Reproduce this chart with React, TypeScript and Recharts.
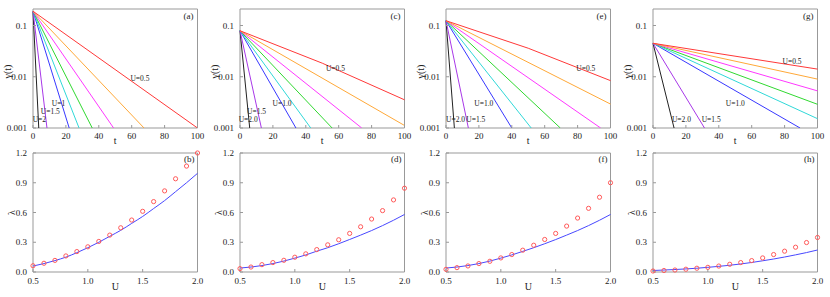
import * as React from "react";
import {
  LineChart,
  ComposedChart,
  Line,
  Scatter,
  XAxis,
  YAxis,
  ReferenceArea,
  ReferenceDot,
} from "recharts";

// gamma(t) curves, one per U value, steepest first: [t, gamma] pairs
const curveColors = ["#222222", "#a838e8", "#3838ff", "#30d8d8", "#30d830", "#ff38ff", "#ffa838", "#ff3838"];

const gammaA: [number, number][][] = [
  [[0, 0.19], [3.5, 0.001]],
  [[0, 0.19], [8.5, 0.001]],
  [[0, 0.19], [22, 0.001]],
  [[0, 0.19], [28, 0.001]],
  [[0, 0.19], [36, 0.001]],
  [[0, 0.19], [49, 0.001]],
  [[0, 0.19], [67.5, 0.001]],
  [[0, 0.19], [100, 0.001]],
];
const gammaC: [number, number][][] = [
  [[0, 0.079], [5.9, 0.001]],
  [[0, 0.079], [13, 0.001]],
  [[0, 0.079], [34, 0.001]],
  [[0, 0.079], [43, 0.001]],
  [[0, 0.079], [56, 0.001]],
  [[0, 0.079], [74, 0.001]],
  [[0, 0.079], [100, 0.00112]],
  [[0, 0.079], [50, 0.0184], [100, 0.00355]],
];
const gammaE: [number, number][][] = [
  [[0, 0.124], [5.1, 0.001]],
  [[0, 0.124], [13.6, 0.001]],
  [[0, 0.124], [40, 0.001]],
  [[0, 0.124], [51.8, 0.001]],
  [[0, 0.124], [69.5, 0.001]],
  [[0, 0.124], [94, 0.001]],
  [[0, 0.124], [100, 0.00293]],
  [[0, 0.124], [50, 0.036], [100, 0.0084]],
];
const gammaG: [number, number][][] = [
  [[0, 0.045], [12.8, 0.001]],
  [[0, 0.045], [31.3, 0.001]],
  [[0, 0.045], [89.4, 0.001]],
  [[0, 0.045], [100, 0.00152]],
  [[0, 0.045], [100, 0.0029]],
  [[0, 0.045], [100, 0.0053]],
  [[0, 0.045], [100, 0.009]],
  [[0, 0.045], [100, 0.0141]],
];

type Note = { text: string; t: number; g: number };
const notesA: Note[] = [
  { text: "U=0.5", t: 65, g: 0.0095 },
  { text: "U=1", t: 15.5, g: 0.003 },
  { text: "U=1.5", t: 10.5, g: 0.0021 },
  { text: "U=2", t: 3.9, g: 0.0015 },
];
const notesC: Note[] = [
  { text: "U=0.5", t: 58, g: 0.0147 },
  { text: "U=1.0", t: 25.6, g: 0.003 },
  { text: "U=1.5", t: 10.1, g: 0.0021 },
  { text: "U=2.0", t: 5, g: 0.00145 },
];
const notesE: Note[] = [
  { text: "U=0.5", t: 85, g: 0.0147 },
  { text: "U=1.0", t: 23, g: 0.003 },
  { text: "U=2.0", t: 5.8, g: 0.00145 },
  { text: "U=1.5", t: 18.1, g: 0.00145 },
];
const notesG: Note[] = [
  { text: "U=0.5", t: 84.5, g: 0.0197 },
  { text: "U=1.0", t: 50, g: 0.003 },
  { text: "U=2.0", t: 17.3, g: 0.00145 },
  { text: "U=1.5", t: 35.4, g: 0.00145 },
];

const tTicks = [0, 20, 40, 60, 80, 100];
const gTicks = [0.001, 0.01, 0.1];
const gDomain: [number, number] = [0.001, 0.21];

// lambda(U): blue line (fit) and red circles (simulation)
const uGrid = [0.5, 0.6, 0.7, 0.8, 0.9, 1.0, 1.1, 1.2, 1.3, 1.4, 1.5, 1.6, 1.7, 1.8, 1.9, 2.0];
const fitB = [0.06, 0.085, 0.115, 0.15, 0.195, 0.245, 0.3, 0.36, 0.42, 0.49, 0.56, 0.64, 0.72, 0.81, 0.9, 0.995];
const simB = [0.063, 0.088, 0.117, 0.162, 0.206, 0.254, 0.308, 0.372, 0.446, 0.524, 0.612, 0.71, 0.818, 0.94, 1.068, 1.2];
const fitD = [0.04, 0.05, 0.065, 0.085, 0.11, 0.14, 0.172, 0.21, 0.245, 0.285, 0.328, 0.372, 0.418, 0.468, 0.522, 0.58];
const simD = [0.034, 0.05, 0.074, 0.095, 0.118, 0.149, 0.183, 0.226, 0.274, 0.325, 0.389, 0.456, 0.534, 0.619, 0.727, 0.845];
const fitF = [0.04, 0.05, 0.065, 0.085, 0.11, 0.14, 0.172, 0.208, 0.245, 0.285, 0.327, 0.372, 0.418, 0.468, 0.522, 0.58];
const simF = [0.027, 0.044, 0.061, 0.085, 0.108, 0.142, 0.176, 0.22, 0.27, 0.328, 0.389, 0.463, 0.544, 0.642, 0.754, 0.9];
const fitH = [0.015, 0.02, 0.025, 0.031, 0.038, 0.047, 0.057, 0.068, 0.081, 0.096, 0.113, 0.131, 0.151, 0.173, 0.196, 0.222];
const simH = [0.01, 0.015, 0.02, 0.028, 0.038, 0.047, 0.06, 0.078, 0.095, 0.115, 0.142, 0.176, 0.21, 0.25, 0.297, 0.348];

const uTicks = [0.5, 1.0, 1.5, 2.0];
const lTicks = [0, 0.3, 0.6, 0.9, 1.2];

const COL_STEP = 206.6;
const FONT = "'Liberation Serif', 'DejaVu Serif', serif";
const FRAME = "#999";
const INK = "#222";
const tickStyle = { fontSize: 9, fill: INK, fontFamily: FONT };

function YTitle(props: any) {
  const vb = props.viewBox ?? {};
  const cx = (vb.x ?? 0) + props.dx0;
  const cy = (vb.y ?? 0) + (vb.height ?? 0) / 2 + props.dy0;
  return (
    <text
      x={cx}
      y={cy}
      transform={`rotate(-90 ${cx} ${cy})`}
      textAnchor="middle"
      dominantBaseline="central"
      fontSize={10}
      fontFamily={FONT}
      fill={INK}
    >
      {props.text}
    </text>
  );
}

function DecayPanel({ col, curves, notes, tag }: { col: number; curves: [number, number][][]; notes: Note[]; tag: string }) {
  return (
    <div style={{ position: "absolute", left: col * COL_STEP, top: 0 }}>
      <LineChart width={205} height={145} margin={{ top: 9, right: 7.5, bottom: 0, left: 0 }}>
        <XAxis
          type="number"
          dataKey="t"
          domain={[0, 100]}
          ticks={tTicks}
          height={17}
          axisLine={false}
          tickSize={-3}
          tickMargin={8}
          tickLine={{ stroke: FRAME }}
          tick={tickStyle}
          label={{ value: "t", position: "insideBottom", offset: 1, fontSize: 10, fill: INK, fontFamily: FONT }}
        />
        <YAxis
          type="number"
          scale="log"
          domain={gDomain}
          allowDataOverflow
          ticks={gTicks}
          width={33}
          axisLine={false}
          tickSize={-3}
          tickMargin={9}
          tickLine={{ stroke: FRAME }}
          tick={tickStyle}
          label={(p: any) => <YTitle {...p} text="γ(t)" dx0={7.5} dy0={3} />}
        />
        <ReferenceArea
          x1={0}
          x2={100}
          y1={gDomain[0]}
          y2={gDomain[1]}
          fill="none"
          stroke={FRAME}
          strokeWidth={1}
          ifOverflow="visible"
          label={{ value: tag, position: "insideTopRight", offset: 4, fontSize: 9, fill: INK, fontFamily: FONT }}
        />
        {curves.map((c, i) => (
          <Line
            key={i}
            data={c.map(([t, g]) => ({ t, g }))}
            dataKey="g"
            type="linear"
            stroke={curveColors[i]}
            strokeWidth={1}
            dot={false}
            isAnimationActive={false}
          />
        ))}
        {notes.map((n) => (
          <ReferenceDot
            key={n.text}
            x={n.t}
            y={n.g}
            r={0}
            fill="none"
            stroke="none"
            ifOverflow="visible"
            label={{ value: n.text, position: "center", fontSize: 7.5, fill: INK, fontFamily: FONT }}
          />
        ))}
      </LineChart>
    </div>
  );
}

function Ring(props: any) {
  if (props.cx == null || props.cy == null) return null;
  return <circle cx={props.cx} cy={props.cy} r={2.1} fill="none" stroke="#ff5a5a" strokeWidth={1} />;
}

function RatePanel({ col, fit, sim, tag }: { col: number; fit: number[]; sim: number[]; tag: string }) {
  const data = uGrid.map((u, i) => ({ u, fit: fit[i], sim: sim[i] }));
  return (
    <div style={{ position: "absolute", left: col * COL_STEP, top: 145 }}>
      <ComposedChart width={205} height={152} data={data} margin={{ top: 8, right: 7.5, bottom: 0, left: 0 }}>
        <XAxis
          type="number"
          dataKey="u"
          domain={[0.5, 2.0]}
          ticks={uTicks}
          height={25}
          axisLine={false}
          tickSize={-3}
          tickMargin={9}
          tickLine={{ stroke: FRAME }}
          tick={tickStyle}
          tickFormatter={(v: number) => v.toFixed(1)}
          label={{ value: "U", position: "insideBottom", offset: 7, fontSize: 10, fill: INK, fontFamily: FONT }}
        />
        <YAxis
          type="number"
          domain={[0, 1.2]}
          ticks={lTicks}
          width={33}
          axisLine={false}
          tickSize={-3}
          tickMargin={9}
          tickLine={{ stroke: FRAME }}
          tick={tickStyle}
          tickFormatter={(v: number) => v.toFixed(1)}
          label={(p: any) => <YTitle {...p} text="λ" dx0={11.5} dy0={0} />}
        />
        <ReferenceArea
          x1={0.5}
          x2={2.0}
          y1={0}
          y2={1.2}
          fill="none"
          stroke={FRAME}
          strokeWidth={1}
          ifOverflow="visible"
          label={{ value: tag, position: "insideTopRight", offset: 3, fontSize: 9, fill: INK, fontFamily: FONT }}
        />
        <Line dataKey="fit" type="monotone" stroke="#4848ff" strokeWidth={1} dot={false} isAnimationActive={false} />
        <Scatter dataKey="sim" shape={<Ring />} isAnimationActive={false} />
      </ComposedChart>
    </div>
  );
}

export default function App() {
  return (
    <div style={{ position: "absolute", left: 0, top: 0, width: 830, height: 297, background: "#fff", fontFamily: FONT }}>
      <DecayPanel col={0} curves={gammaA} notes={notesA} tag="(a)" />
      <DecayPanel col={1} curves={gammaC} notes={notesC} tag="(c)" />
      <DecayPanel col={2} curves={gammaE} notes={notesE} tag="(e)" />
      <DecayPanel col={3} curves={gammaG} notes={notesG} tag="(g)" />
      <RatePanel col={0} fit={fitB} sim={simB} tag="(b)" />
      <RatePanel col={1} fit={fitD} sim={simD} tag="(d)" />
      <RatePanel col={2} fit={fitF} sim={simF} tag="(f)" />
      <RatePanel col={3} fit={fitH} sim={simH} tag="(h)" />
    </div>
  );
}
